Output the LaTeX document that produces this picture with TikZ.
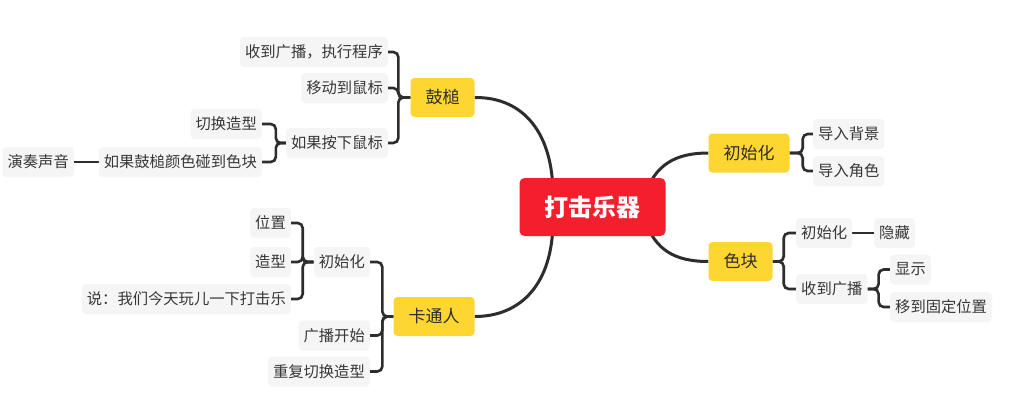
\documentclass[tikz,border=0pt]{standalone}
\usepackage{fontspec}
\setmainfont{Noto Sans CJK SC}
\usetikzlibrary{backgrounds,calc}
\definecolor{ylw}{RGB}{253,214,50}
\definecolor{rd}{RGB}{244,30,45}
\definecolor{lf}{RGB}{245,245,245}
\definecolor{tx}{RGB}{55,55,55}
\definecolor{ln}{RGB}{45,45,45}
\tikzset{
  leaf/.style={fill=lf,rounded corners=4pt,inner xsep=5pt,inner ysep=0pt,minimum height=30pt,text=tx,font=\fontsize{15.3pt}{15.3pt}\selectfont},
  topic/.style={fill=ylw,rounded corners=4pt,inner xsep=15pt,inner ysep=0pt,minimum height=39pt,text=ln,font=\fontsize{17pt}{17pt}\selectfont},
  root/.style={fill=rd,rounded corners=5pt,inner xsep=25pt,inner ysep=0pt,minimum height=58pt,text=white,font=\fontsize{24pt}{24pt}\selectfont\bfseries},
  br/.style={draw=ln,line width=2.6pt,rounded corners=5pt},
  mainline/.style={draw=ln,line width=3pt},
}
\begin{document}
\begin{tikzpicture}[x=1pt,y=-1pt]
\useasboundingbox (0,0) rectangle (1024,400);
% root
\node[root] (root) at (592.5,207) {打击乐器};
% topics
\node[topic] (gucui) at (442.5,97.5) {鼓槌};
\node[topic] (katong) at (434,316.5) {卡通人};
\node[topic] (rinit) at (749,153) {初始化};
\node[topic] (sekuai) at (740.5,261.5) {色块};
% left top leaves
\node[leaf,anchor=east] (shou1) at (388,52) {收到广播，执行程序};
\node[leaf,anchor=east] (yidong) at (388,88) {移动到鼠标};
\node[leaf,anchor=east] (ruguo) at (388,143) {如果按下鼠标};
\node[leaf,anchor=east] (qiehuan) at (262,124) {切换造型};
\node[leaf,anchor=east] (pengdao) at (262,162) {如果鼓槌颜色碰到色块};
\node[leaf,anchor=east] (yanzou) at (74,162) {演奏声音};
% left bottom leaves
\node[leaf,anchor=east] (kinit) at (370,262) {初始化};
\node[leaf,anchor=east] (guangbo) at (370,335.5) {广播开始};
\node[leaf,anchor=east] (chongfu) at (370,371.5) {重复切换造型};
\node[leaf,anchor=east] (weizhi) at (291,223) {位置};
\node[leaf,anchor=east] (zaoxing) at (291,262) {造型};
\node[leaf,anchor=east] (shuo) at (291,299) {说：我们今天玩儿一下打击乐};
% right leaves
\node[leaf,anchor=west] (beijing) at (813,134) {导入背景};
\node[leaf,anchor=west] (juese) at (813,171) {导入角色};
\node[leaf,anchor=west] (sinit) at (796,233) {初始化};
\node[leaf,anchor=west] (yincang) at (874,233) {隐藏};
\node[leaf,anchor=west] (shoudao) at (796,289) {收到广播};
\node[leaf,anchor=west] (xianshi) at (890,269.5) {显示};
\node[leaf,anchor=west] (yidao) at (890,307) {移到固定位置};
% hidden curve ends inside root
\coordinate (cLT) at (553,195);
\coordinate (cLB) at (553,220);
\coordinate (cRT) at (645,195);
\coordinate (cRB) at (645,220);
\begin{pgfonlayer}{background}
\fill[white] (0,0) rectangle (1024,400);
% main curves
\draw[mainline] (gucui.east) .. controls (525,97) and (553,135) .. (cLT);
\draw[mainline] (cLB) .. controls (553,285) and (520,316.5) .. (katong.east);
\draw[mainline] (cRT) .. controls (655,165) and (675,153) .. (rinit.west);
\draw[mainline] (cRB) .. controls (655,250) and (675,261.5) .. (sekuai.west);
% gucui brackets
\foreach \c in {shou1,yidong,ruguo}
  \draw[br] (\c.east) -| ($(gucui.west)+(-12,0)$) -- (gucui.west);
\foreach \c in {qiehuan,pengdao}
  \draw[br] (\c.east) -| ($(ruguo.west)+(-10,0)$) -- (ruguo.west);
\draw[br] (yanzou.east) -- (pengdao.west);
% katong brackets
\foreach \c in {kinit,guangbo,chongfu}
  \draw[br] (\c.east) -| ($(katong.west)+(-11,0)$) -- (katong.west);
\foreach \c in {weizhi,zaoxing,shuo}
  \draw[br] (\c.east) -| ($(kinit.west)+(-11,0)$) -- (kinit.west);
% right brackets
\foreach \c in {beijing,juese}
  \draw[br] (rinit.east) -- ++(13,0) |- (\c.west);
\foreach \c in {sinit,shoudao}
  \draw[br] (sekuai.east) -- ++(11,0) |- (\c.west);
\draw[br] (sinit.east) -- (yincang.west);
\foreach \c in {xianshi,yidao}
  \draw[br] (shoudao.east) -- ++(11,0) |- (\c.west);
\end{pgfonlayer}
\end{tikzpicture}
\end{document}
